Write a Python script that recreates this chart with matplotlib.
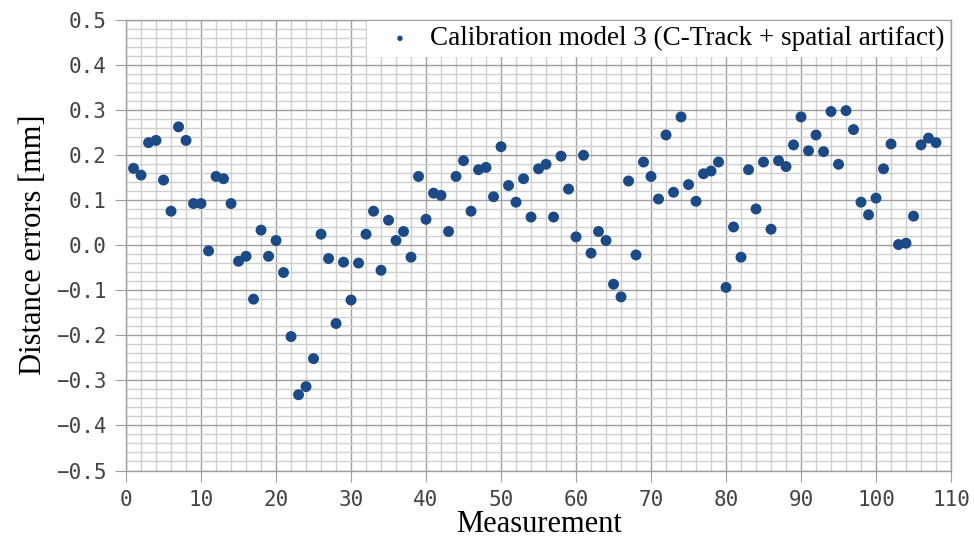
import numpy as np
import matplotlib
matplotlib.use('Agg')
import matplotlib.pyplot as plt
from matplotlib.ticker import MultipleLocator, FuncFormatter

# data dibaca dari gambar referensi
measurement = np.arange(1, 109)
errors = [
    0.170, 0.155, 0.227, 0.232, 0.144, 0.075, 0.262, 0.232, 0.092, 0.092,
    -0.013, 0.152, 0.147, 0.092, -0.036, -0.025, -0.120, 0.033, -0.025, 0.010,
    -0.061, -0.203, -0.332, -0.314, -0.252, 0.024, -0.030, -0.174, -0.038, -0.122,
    -0.040, 0.024, 0.075, -0.056, 0.055, 0.010, 0.030, -0.027, 0.152, 0.057,
    0.115, 0.110, 0.030, 0.152, 0.187, 0.075, 0.167, 0.172, 0.107, 0.218,
    0.132, 0.095, 0.147, 0.062, 0.169, 0.179, 0.062, 0.197, 0.124, 0.018,
    0.199, -0.018, 0.030, 0.010, -0.087, -0.115, 0.142, -0.022, 0.184, 0.152,
    0.102, 0.244, 0.117, 0.284, 0.134, 0.097, 0.158, 0.164, 0.184, -0.094,
    0.040, -0.027, 0.167, 0.080, 0.184, 0.035, 0.187, 0.174, 0.222, 0.284,
    0.209, 0.244, 0.207, 0.296, 0.179, 0.298, 0.256, 0.095, 0.067, 0.104,
    0.169, 0.224, 0.001, 0.004, 0.064, 0.222, 0.237, 0.227,
]
label = 'Calibration model 3 (C-Track + spatial artifact)'

fig = plt.figure(figsize=(9.74, 5.42), dpi=100)
ax = fig.add_axes([0.1294, 0.1319, 0.9764 - 0.1294, 0.964 - 0.1319])

ax.scatter(measurement, errors, s=62, color='#1b4a86', zorder=3, label=label,
           edgecolors='none')

ax.set_xlim(0, 110)
ax.set_ylim(-0.5, 0.5)
ax.xaxis.set_major_locator(MultipleLocator(10))
ax.xaxis.set_minor_locator(MultipleLocator(2))
ax.yaxis.set_major_locator(MultipleLocator(0.1))
ax.yaxis.set_minor_locator(MultipleLocator(0.02))
ax.yaxis.set_major_formatter(FuncFormatter(lambda v, p: ('%.1f' % v).replace('-', '\u2212')))

ax.grid(which='major', color='#a0a0a0', linewidth=1.0, zorder=1)
ax.grid(which='minor', color='#cfcfcf', linewidth=1.0, zorder=1)
ax.set_axisbelow(True)

for s in ax.spines.values():
    s.set_color('#a0a0a0')
    s.set_linewidth(1.0)

ax.tick_params(which='major', length=8, color='#a0a0a0', labelcolor='#444444',
               labelsize=15, pad=6)
ax.tick_params(which='minor', length=0)
for t in ax.get_xticklabels() + ax.get_yticklabels():
    t.set_family('DejaVu Sans Mono')

ax.set_xlabel('Measurement', family='Liberation Serif', fontsize=22, labelpad=0)
ax.set_ylabel('Distance errors [mm]', family='Liberation Serif', fontsize=22, labelpad=6)

leg = ax.legend(loc='upper right', prop={'family': 'Liberation Serif', 'size': 19.5},
                frameon=True, fancybox=False, edgecolor='none', facecolor='white',
                framealpha=1, borderaxespad=0.05, borderpad=0.2, handletextpad=0.1,
                markerscale=0.5)
leg.set_zorder(5)

fig.savefig('out.png', dpi=100)
